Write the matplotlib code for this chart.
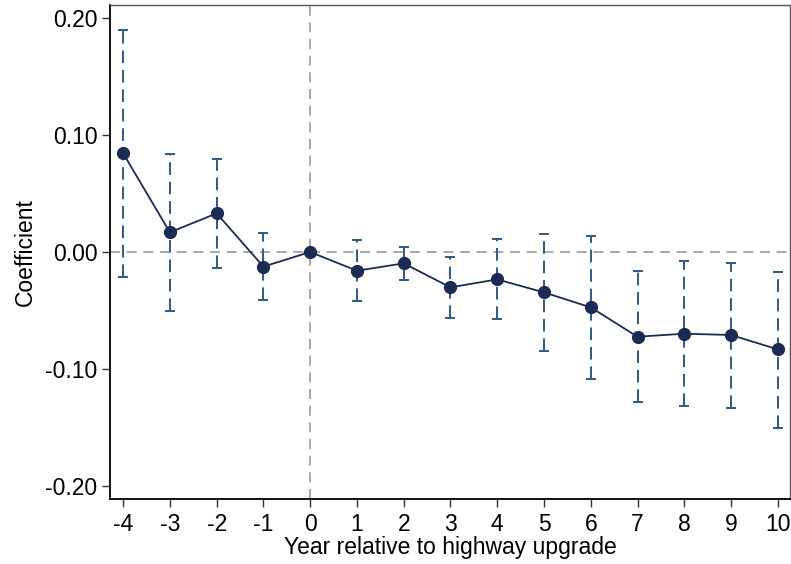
import matplotlib.pyplot as plt
import numpy as np

plt.rcParams['font.family'] = ['Liberation Sans', 'DejaVu Sans']
plt.rcParams['axes.unicode_minus'] = False

# event-study estimates
years = [-4, -3, -2, -1, 0, 1, 2, 3, 4, 5, 6, 7, 8, 9, 10]
coef = [0.0844, 0.0168, 0.0330, -0.0125, 0.0, -0.0160, -0.0097, -0.0302, -0.0234,
        -0.0345, -0.0473, -0.0724, -0.0698, -0.0709, -0.0832]
ci_hi = [0.190, 0.0838, 0.0797, 0.0160, 0.0, 0.0103, 0.0040, -0.0046, 0.0111,
         0.0154, 0.0137, -0.0162, -0.0074, -0.0091, -0.0174]
ci_lo = [-0.0216, -0.0504, -0.0134, -0.0413, 0.0, -0.0416, -0.0240, -0.0567, -0.0575,
         -0.0846, -0.1083, -0.1285, -0.1316, -0.1330, -0.1500]
yticks = [-0.20, -0.10, 0.00, 0.10, 0.20]

fig = plt.figure(figsize=(7.91, 5.64), dpi=100)
ax = fig.add_axes([110 / 791, 1 - 499 / 564, 680 / 791, 494 / 564])

ax.axhline(0, color='#9a9a9a', lw=1.2, ls=(0, (6, 4)), zorder=1)
ax.axvline(0, color='#9a9a9a', lw=1.2, ls=(0, (6, 4)), zorder=1)

x = np.array(years)
c = np.array(coef)
# error bars (skip the reference year, it has none)
m = x != 0
eb = ax.errorbar(x[m], c[m], yerr=[c[m] - np.array(ci_lo)[m], np.array(ci_hi)[m] - c[m]],
                 fmt='none', ecolor='#2f5a82', elinewidth=1.4, capsize=3.6,
                 capthick=1.4, zorder=2)
eb[2][0].set_linestyle((0, (6.5, 3.5)))

ax.plot(x, c, color='#1c2b55', lw=1.3, marker='o', ms=8.5, zorder=3)

ax.set_xlim(-4.28, 10.26)
ax.set_ylim(-0.211, 0.211)
ax.set_xticks(years)
ax.set_xticklabels([str(v) for v in years])
ax.set_yticks(yticks)
ax.set_yticklabels([f'{v:.2f}' for v in yticks])
ax.tick_params(direction='out', length=6, width=1, labelsize=16.5, color='#333333')
ax.tick_params(axis='y', pad=3)
ax.tick_params(axis='x', pad=4)

for s in ['left', 'bottom']:
    ax.spines[s].set_color('black')
    ax.spines[s].set_linewidth(1.3)
for s in ['top', 'right']:
    ax.spines[s].set_color('#555555')
    ax.spines[s].set_linewidth(1.0)

ax.set_xlabel('Year relative to highway upgrade', fontsize=16.5, labelpad=0)
ax.set_ylabel('Coefficient', fontsize=16.5, labelpad=6)

fig.savefig('out.png', dpi=100)
